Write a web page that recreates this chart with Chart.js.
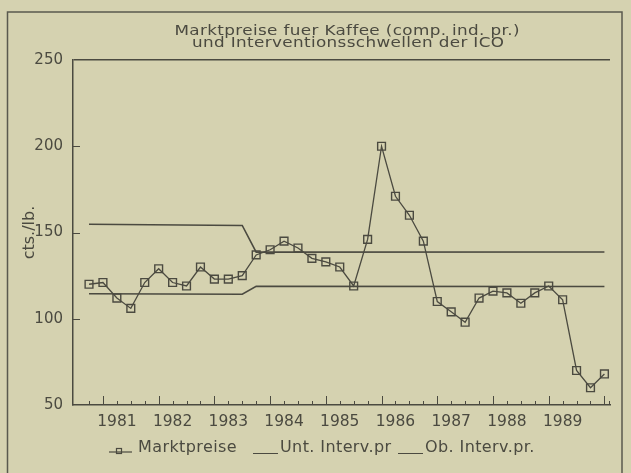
<!DOCTYPE html>
<html>
<head>
<meta charset="utf-8">
<script src="https://cdn.jsdelivr.net/npm/chart.js@4.4.0/dist/chart.umd.min.js"></script>
<style>
  html, body { margin: 0; padding: 0; background: #d5d2b0; }
  canvas { display: block; }
</style>
</head>
<body>
<canvas id="chart" width="631" height="473"></canvas>
<script>
// quarterly positions on the time axis
const quarters = [1,2,3,4,5,6,7,8,9,10,11,12,13,14,15,16,17,18,19,20,
                  21,22,23,24,25,26,27,28,29,30,31,32,33,34,35,36,37,38];

// Marktpreise (cts./lb.)
const marktpreise = [120,121,112,106,121,129,121,119,130,123,123,125,137,140,
                     145,141,135,133,130,119,146,200,171,160,145,110,104,
                     98,112,116,115,109,115,119,111,70,60,68];

// intervention thresholds, given at their break points
const untX = [1, 12, 13, 38];
const untY = [114.5, 114.2, 118.8, 118.7];
const obX  = [1, 12, 13, 38];
const obY  = [154.8, 154.1, 138.6, 138.7];

const yearLabels = ['1981','1982','1983','1984','1985','1986','1987','1988','1989'];
const yearLabelPos = [3,7,11,15,19,23,27,31,35];
const yearTickPos = [2,6,10,14,18,22,26,30,34,38];

const titleLines = ['Marktpreise fuer Kaffee (comp. ind. pr.)', 'und Interventionsschwellen der ICO'];

const ink = '#4b4a40';
const fontFamily = '"DejaVu Sans", sans-serif';

function toPoints(xs, ys) {
  return xs.map((x, i) => ({ x: x, y: ys[i] }));
}

// wide, spaced lettering like the plotter font of the original
function wideText(ctx, text, cx, cy, size, stretch, spacing) {
  ctx.save();
  ctx.font = size + 'px ' + fontFamily;
  ctx.letterSpacing = spacing + 'px';
  ctx.textAlign = 'left';
  ctx.textBaseline = 'middle';
  const w = (ctx.measureText(text).width - spacing) * stretch;
  ctx.translate(cx - w / 2, cy);
  ctx.scale(stretch, 1);
  ctx.fillText(text, 0, 0);
  ctx.restore();
}

const paperPlugin = {
  id: 'paper',
  beforeDraw(chart) {
    const ctx = chart.ctx;
    ctx.save();
    ctx.fillStyle = '#d5d2b0';
    ctx.fillRect(0, 0, chart.width, chart.height);
    ctx.strokeStyle = '#5a594e';
    ctx.lineWidth = 1.5;
    ctx.strokeRect(7.5, 12, 614.5, 480);
    ctx.restore();
  },
  afterDraw(chart) {
    const ctx = chart.ctx;
    const xs = chart.scales.x;
    const ys = chart.scales.y;
    const area = chart.chartArea;
    ctx.save();
    ctx.strokeStyle = ink;
    ctx.fillStyle = ink;
    ctx.lineWidth = 1;

    // quarter ticks pointing up into the plot
    ctx.beginPath();
    quarters.forEach(q => {
      const px = Math.round(xs.getPixelForValue(q)) + 0.5;
      const len = yearTickPos.includes(q) ? 9 : 4;
      ctx.moveTo(px, area.bottom);
      ctx.lineTo(px, area.bottom - len);
    });
    ctx.moveTo(area.right - 0.5, area.bottom);
    ctx.lineTo(area.right - 0.5, area.bottom - 4);
    // value ticks on the left axis
    [100, 150, 200].forEach(v => {
      const py = Math.round(ys.getPixelForValue(v)) + 0.5;
      ctx.moveTo(area.left, py);
      ctx.lineTo(area.left + 7, py);
    });
    ctx.stroke();

    // title
    wideText(ctx, titleLines[0], 347, 31, 14, 1.2, 0.3);
    wideText(ctx, titleLines[1], 348, 43, 14, 1.2, 0.3);

    // legend
    const ly = 448;
    ctx.font = '16px ' + fontFamily;
    ctx.letterSpacing = '0.4px';
    ctx.textBaseline = 'middle';
    ctx.textAlign = 'left';
    ctx.lineWidth = 1.2;
    ctx.beginPath();
    ctx.moveTo(109, ly + 4);
    ctx.lineTo(132, ly + 4);
    ctx.stroke();
    ctx.strokeRect(116.5, ly + 0.5, 5, 5);
    ctx.fillText('Marktpreise', 138, ly);

    ctx.beginPath();
    ctx.moveTo(253, ly + 5.5);
    ctx.lineTo(278, ly + 5.5);
    ctx.moveTo(398, ly + 5.5);
    ctx.lineTo(423, ly + 5.5);
    ctx.stroke();
    ctx.fillText('Unt. Interv.pr', 280, ly);
    ctx.fillText('Ob. Interv.pr.', 425, ly);
    ctx.restore();
  }
};

new Chart(document.getElementById('chart'), {
  type: 'line',
  data: {
    labels: quarters,
    datasets: [
      {
        label: 'Marktpreise',
        data: marktpreise,
        borderColor: ink,
        borderWidth: 1.3,
        pointStyle: 'rect',
        pointRadius: 5.5,
        pointBorderWidth: 1.4,
        pointBorderColor: ink,
        pointBackgroundColor: 'rgba(0,0,0,0)',
        tension: 0,
        fill: false
      },
      {
        label: 'Unt. Interv.pr',
        data: toPoints(untX, untY),
        borderColor: ink,
        borderWidth: 1.6,
        pointRadius: 0,
        tension: 0,
        fill: false
      },
      {
        label: 'Ob. Interv.pr.',
        data: toPoints(obX, obY),
        borderColor: ink,
        borderWidth: 1.6,
        pointRadius: 0,
        tension: 0,
        fill: false
      }
    ]
  },
  options: {
    responsive: false,
    animation: false,
    layout: { padding: { left: 0, right: 21, top: 60, bottom: 0 } },
    plugins: {
      legend: { display: false },
      tooltip: { enabled: false },
      title: { display: false }
    },
    scales: {
      x: {
        type: 'linear',
        min: -0.15,
        max: 38.4,
        afterFit(scale) { scale.height = 68; },
        afterBuildTicks(scale) { scale.ticks = yearLabelPos.map(v => ({ value: v })); },
        grid: { display: false, drawTicks: false },
        border: { display: true, color: ink, width: 1.5 },
        ticks: {
          autoSkip: false,
          maxRotation: 0,
          padding: 8,
          color: ink,
          font: { family: fontFamily, size: 15.5 },
          callback(value) {
            const i = yearLabelPos.indexOf(value);
            return i >= 0 ? yearLabels[i] : '';
          }
        }
      },
      y: {
        min: 50,
        max: 250,
        afterFit(scale) { scale.width = 73; },
        grid: {
          drawTicks: false,
          color: ctx => (ctx.tick && ctx.tick.value === 250) ? ink : 'rgba(0,0,0,0)',
          lineWidth: 1.5
        },
        border: { display: true, color: ink, width: 1.5 },
        ticks: {
          stepSize: 50,
          padding: 10,
          color: ink,
          font: { family: fontFamily, size: 15 }
        },
        title: {
          display: true,
          text: 'cts./lb.',
          color: ink,
          font: { family: fontFamily, size: 16 },
          padding: { top: 20, bottom: 0 }
        }
      }
    }
  },
  plugins: [paperPlugin]
});
</script>
</body>
</html>
